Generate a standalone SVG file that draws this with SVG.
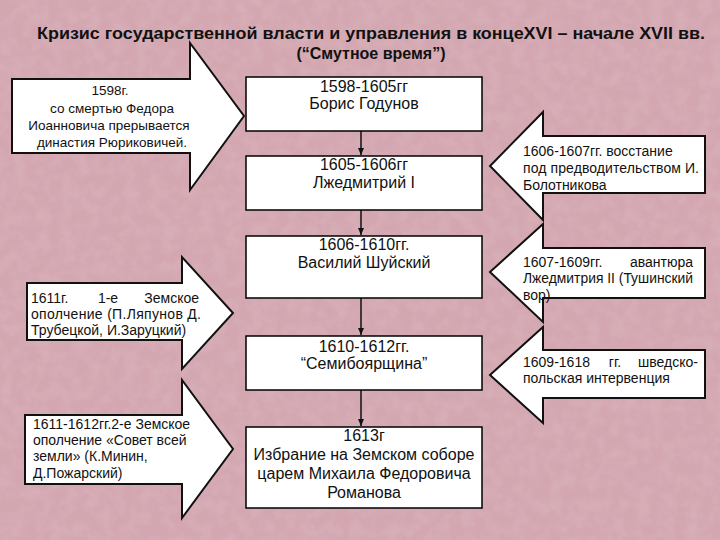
<svg xmlns="http://www.w3.org/2000/svg" width="720" height="540" viewBox="0 0 720 540">
<style>
text{font-family:"Liberation Sans",Arial,sans-serif;fill:#111}
.t{font-size:16px;font-weight:bold}
.c{font-size:16px;text-anchor:middle}
.s{font-size:13.5px}
.s2{font-size:14px}
.m{text-anchor:middle}
.e{text-anchor:end}
.box{fill:#fff;stroke:#000;stroke-width:1.5}
.arr{fill:#fff;stroke:#111;stroke-width:2;stroke-linejoin:miter}
.con{stroke:#111;stroke-width:1.5;fill:none}
</style>
<defs>
<marker id="ah" markerWidth="8" markerHeight="8" refX="7" refY="4" orient="auto" markerUnits="userSpaceOnUse">
<path d="M0,1 L7,4 L0,7 Z" fill="#111"/>
</marker>
<filter id="tex" x="0" y="0" width="100%" height="100%">
<feTurbulence type="fractalNoise" baseFrequency="0.08" numOctaves="3" seed="4"/>
<feColorMatrix type="matrix" values="0 0 0 0 1  0 0 0 0 1  0 0 0 0 1  0 0 0 0.35 -0.1"/>
</filter>
</defs>
<rect width="720" height="540" fill="#d3a6b0"/>
<rect width="720" height="540" filter="url(#tex)" opacity="0.5"/>
<g id="title">
<text class="t" x="371" y="39" text-anchor="middle" textLength="668" lengthAdjust="spacingAndGlyphs">Кризис государственной власти и управления в концеXVI – начале XVII вв.</text>
<text class="t" x="371" y="59" text-anchor="middle">(“Смутное время”)</text>
</g>
<g id="connectors">
<line class="con" x1="361" y1="131" x2="361" y2="155" marker-end="url(#ah)"/>
<line class="con" x1="361" y1="210" x2="361" y2="235" marker-end="url(#ah)"/>
<line class="con" x1="361" y1="298" x2="361" y2="335" marker-end="url(#ah)"/>
<line class="con" x1="361" y1="390" x2="361" y2="426" marker-end="url(#ah)"/>
</g>
<g id="left1">
<polygon class="arr" points="12,79 190,79 190,43 244,116 190,190 190,153 12,153"/>
<text class="s m" x="110" y="95">1598г.</text>
<text class="s m" x="112" y="113">со смертью Федора</text>
<text class="s m" x="109" y="130">Иоанновича прерывается</text>
<text class="s m" x="112" y="147">династия Рюриковичей.</text>
</g>
<g id="left2">
<polygon class="arr" points="27,283 182,283 182,257 233,313 182,369 182,340 27,340"/>
<text class="s2" x="31" y="303">1611г.</text>
<text class="s2 m" x="108" y="303">1-е</text>
<text class="s2 e" x="199" y="303">Земское</text>
<text class="s2" x="31" y="319" textLength="170" lengthAdjust="spacing">ополчение (П.Ляпунов Д.</text>
<text class="s2" x="31" y="335">Трубецкой, И.Заруцкий)</text>
</g>
<g id="left3">
<polygon class="arr" points="25,415 182,415 182,380 233,449 182,518 182,484 25,484"/>
<text class="s2" x="33" y="429">1611-1612гг.2-е Земское</text>
<text class="s2" x="33" y="445">ополчение «Совет всей</text>
<text class="s2" x="33" y="461">земли» (К.Минин,</text>
<text class="s2" x="33" y="478">Д.Пожарский)</text>
</g>
<g id="right1">
<polygon class="arr" points="705,136 543,136 543,112 490,166 543,220 543,193 705,193"/>
<text class="s2" x="523" y="156">1606-1607гг. восстание</text>
<text class="s2" x="523" y="173" textLength="176" lengthAdjust="spacing">под предводительством И.</text>
<text class="s2" x="523" y="190">Болотникова</text>
</g>
<g id="right2">
<polygon class="arr" points="705,248 543,248 543,224 490,272 543,322 543,298 705,298"/>
<text class="s2" x="523" y="267">1607-1609гг.</text>
<text class="s2 e" x="693" y="267">авантюра</text>
<text class="s2" x="523" y="283" textLength="170" lengthAdjust="spacingAndGlyphs">Лжедмитрия II (Тушинский</text>
<text class="s2" x="523" y="300">вор)</text>
</g>
<g id="right3">
<polygon class="arr" points="705,350 543,350 543,327 490,375 543,423 543,398 705,398"/>
<text class="s2" x="523" y="367">1609-1618</text>
<text class="s2 m" x="615" y="367">гг.</text>
<text class="s2 e" x="698" y="367">шведско-</text>
<text class="s2" x="523" y="383">польская интервенция</text>
</g>
<g id="box1">
<rect class="box" x="246" y="77" width="236" height="54"/>
<text class="c" x="364" y="92">1598-1605гг</text>
<text class="c" x="364" y="109">Борис Годунов</text>
</g>
<g id="box2">
<rect class="box" x="246" y="156" width="236" height="54"/>
<text class="c" x="364" y="170">1605-1606гг</text>
<text class="c" x="364" y="188">Лжедмитрий I</text>
</g>
<g id="box3">
<rect class="box" x="246" y="236" width="236" height="62"/>
<text class="c" x="364" y="250">1606-1610гг.</text>
<text class="c" x="364" y="268">Василий Шуйский</text>
</g>
<g id="box4">
<rect class="box" x="246" y="336" width="236" height="54"/>
<text class="c" x="364" y="352">1610-1612гг.</text>
<text class="c" x="364" y="369">“Семибоярщина”</text>
</g>
<g id="box5">
<rect class="box" x="246" y="427" width="236" height="81"/>
<text class="c" x="364" y="441">1613г</text>
<text class="c" x="364" y="460">Избрание на Земском соборе</text>
<text class="c" x="364" y="479">царем Михаила Федоровича</text>
<text class="c" x="364" y="498">Романова</text>
</g>
</svg>
